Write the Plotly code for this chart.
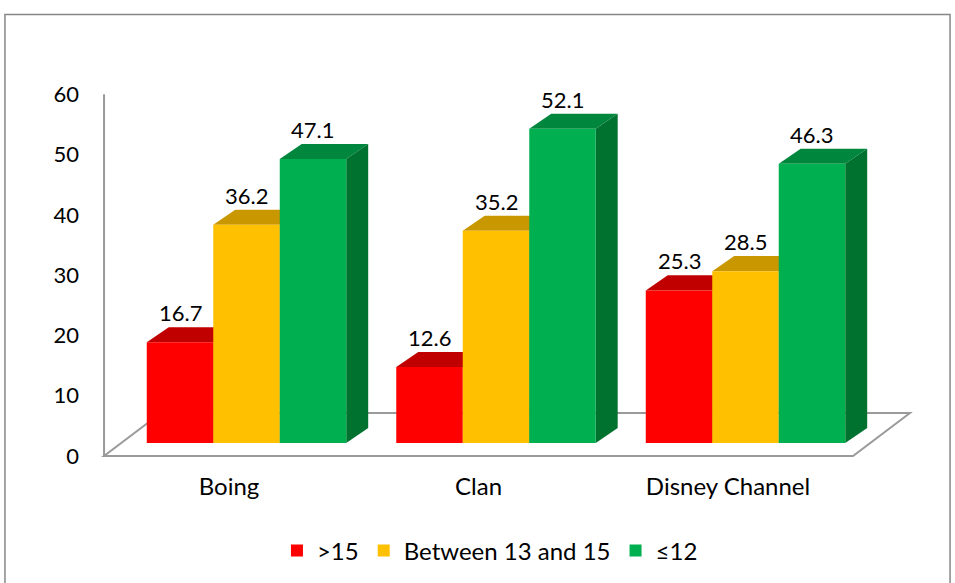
import plotly.graph_objects as go

# data
channels = ["Boing", "Clan", "Disney Channel"]
series_names = [">15", "Between 13 and 15", "≤12"]
over_15 = [16.7, 12.6, 25.3]
between_13_15 = [36.2, 35.2, 28.5]
under_12 = [47.1, 52.1, 46.3]
y_ticks = [0, 10, 20, 30, 40, 50, 60]

series_values = [over_15, between_13_15, under_12]

# styling for the fake 3D columns
front_colors = ["#FF0000", "#FFC000", "#00B050"]
top_colors = ["#C00000", "#C99700", "#00873D"]
side_colors = ["#A00000", "#A67C00", "#00722F"]

W = 0.2665      # bar width (category units)
DX = 0.088      # depth offset in x
DY = 2.5        # depth offset in y
SHIFT = 2.16    # value axis sits lower than bar baseline (perspective)
FONT = "Lato"

fig = go.Figure()
shapes = []

# floor plane and left axis line
fx0, fx1, fdx, fdy = -0.571, 2.431, 0.228, 7.14
shapes.append(dict(
    type="path", xref="x", yref="y", layer="below",
    path=f"M {fx0},{-SHIFT} L {fx1},{-SHIFT} L {fx1+fdx},{-SHIFT+fdy} L {fx0+fdx},{-SHIFT+fdy} Z",
    line=dict(color="#9A9A9A", width=2), fillcolor="rgba(0,0,0,0)"))
shapes.append(dict(type="line", xref="x", yref="y2", layer="below",
                   x0=fx0, x1=fx0, y0=0, y1=60,
                   line=dict(color="#9A9A9A", width=2)))

annotations = []
for j, (name, vals) in enumerate(zip(series_names, series_values)):
    xs = [i + (j - 1) * W for i in range(len(channels))]
    fig.add_trace(go.Bar(
        x=xs, y=vals, width=W, name=name,
        marker=dict(color=front_colors[j], line=dict(width=0)),
        hoverinfo="skip"))
    for x, v in zip(xs, vals):
        l, r = x - W / 2, x + W / 2
        # top face
        shapes.append(dict(
            type="path", xref="x", yref="y", layer="below",
            path=f"M {l},{v} L {r},{v} L {r+DX},{v+DY} L {l+DX},{v+DY} Z",
            fillcolor=top_colors[j], line=dict(width=0)))
        # side face
        shapes.append(dict(
            type="path", xref="x", yref="y", layer="below",
            path=f"M {r},0 L {r},{v} L {r+DX},{v+DY} L {r+DX},{DY} Z",
            fillcolor=side_colors[j], line=dict(width=0)))
        annotations.append(dict(
            x=x, y=v + DY, xref="x", yref="y", text=f"{v}",
            showarrow=False, yanchor="bottom", yshift=-1,
            font=dict(family=FONT, size=22, color="#000000")))

# outer chart border
shapes.append(dict(type="rect", xref="paper", yref="paper",
                   x0=0.0052, x1=0.9948, y0=-0.1, y1=0.975,
                   line=dict(color="#878787", width=1.5)))

fig.update_layout(
    width=955, height=583,
    margin=dict(l=0, r=0, t=0, b=0),
    paper_bgcolor="white", plot_bgcolor="white",
    barmode="overlay",
    shapes=shapes, annotations=annotations,
    font=dict(family=FONT, size=22, color="#000000"),
    showlegend=True,
    legend=dict(orientation="h", x=0.29, xanchor="left", y=0.055, yanchor="middle",
                font=dict(family=FONT, size=24), bgcolor="rgba(0,0,0,0)"),
    xaxis=dict(range=[-0.988, 2.8397], showgrid=False, zeroline=False, showline=False,
               anchor="free", position=0.194,
               tickvals=[i - 0.07 for i in range(len(channels))], ticktext=channels,
               ticks="", tickfont=dict(family=FONT, size=24)),
    yaxis=dict(range=[-23.22, 73.47], visible=False, fixedrange=True),
    yaxis2=dict(range=[-23.22 + SHIFT, 73.47 + SHIFT], overlaying="y", anchor="free",
                position=0.109, side="left", showgrid=False, zeroline=False, showline=False,
                tickvals=y_ticks, ticks="", ticklabelstandoff=25,
                tickfont=dict(family=FONT, size=22)),
)

fig.write_html("out.html", config={"displayModeBar": False},
               post_script="document.body.style.margin='0';")
